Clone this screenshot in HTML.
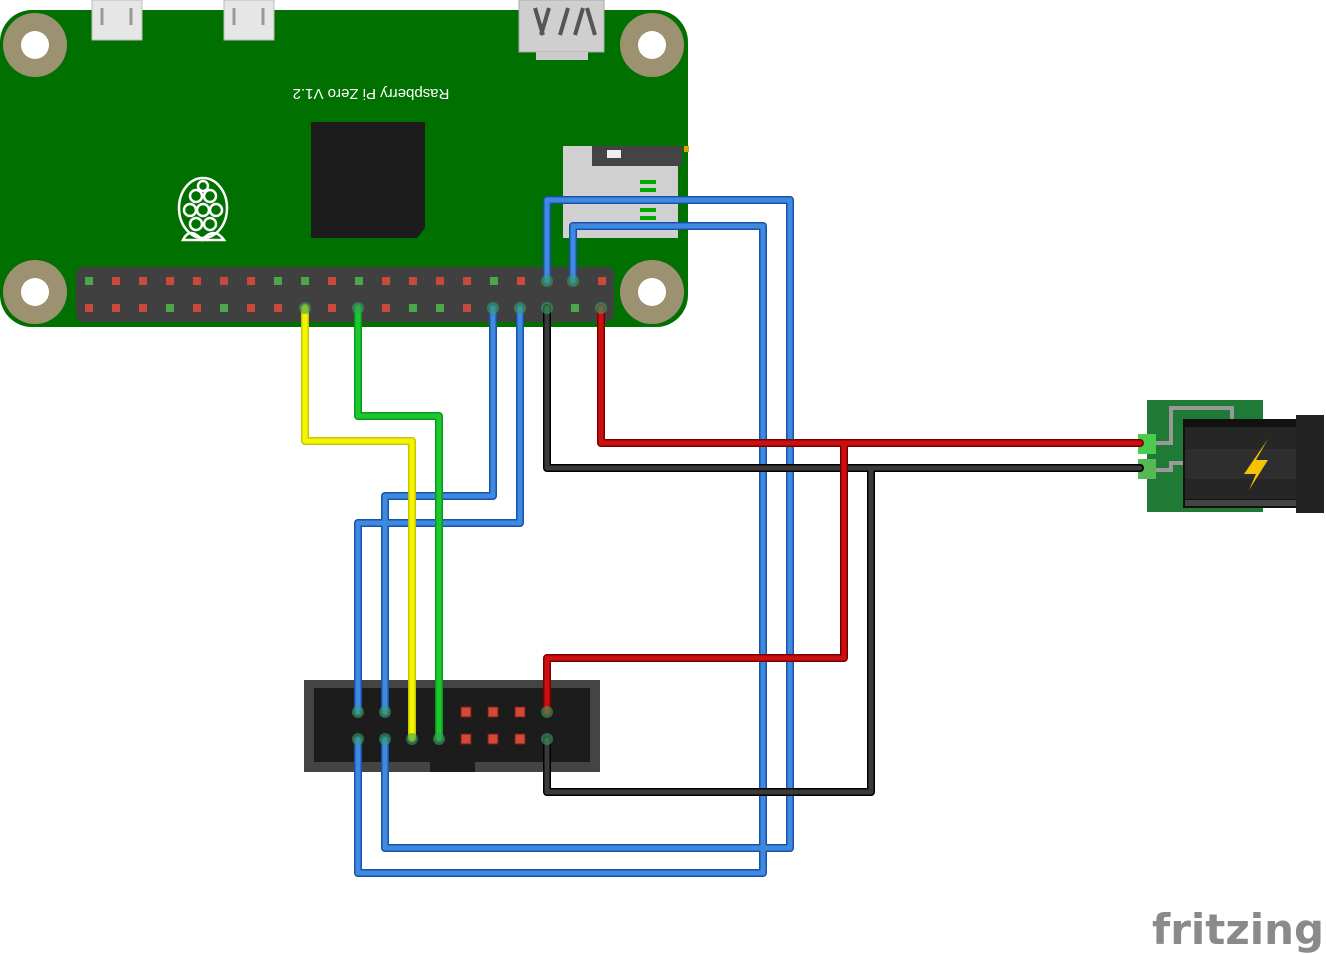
<!DOCTYPE html>
<html><head><meta charset="utf-8"><style>
html,body{margin:0;padding:0;background:#fff;width:1326px;height:954px;overflow:hidden}
</style></head><body>
<svg width="1326" height="954" viewBox="0 0 1326 954" xmlns="http://www.w3.org/2000/svg">
<rect x="0" y="10" width="688" height="317" rx="32" fill="#007000"/>
<rect x="92" y="0" width="50" height="40" fill="#e6e6e6" stroke="#bbb"/>
<path d="M102 8 V25 M131 8 V25" stroke="#999" stroke-width="3"/>
<rect x="224" y="0" width="50" height="40" fill="#e6e6e6" stroke="#bbb"/>
<path d="M234 8 V25 M263 8 V25" stroke="#999" stroke-width="3"/>
<rect x="519" y="0" width="85" height="52" fill="#cfcfcf" stroke="#aaa"/>
<path d="M535 8 L543 35 M549 8 L541 35 M560 35 L568 8 M575 35 L583 8 M587 8 L595 35" stroke="#555" stroke-width="4" fill="none"/>
<rect x="536" y="52" width="52" height="8" fill="#ccc"/>
<circle cx="35" cy="45" r="32" fill="#9c9170"/><circle cx="35" cy="45" r="14" fill="#fff"/>
<circle cx="652" cy="45" r="32" fill="#9c9170"/><circle cx="652" cy="45" r="14" fill="#fff"/>
<circle cx="35" cy="292" r="32" fill="#9c9170"/><circle cx="35" cy="292" r="14" fill="#fff"/>
<circle cx="652" cy="292" r="32" fill="#9c9170"/><circle cx="652" cy="292" r="14" fill="#fff"/>
<text x="371" y="99" font-family="Liberation Sans, sans-serif" font-size="15" fill="#fff" text-anchor="middle" transform="rotate(180 371 94)">Raspberry Pi Zero V1.2</text>
<path d="M311 122 H425 V228 L417 238 H311 Z" fill="#1c1c1c"/>
<g fill="none" stroke="#fff" stroke-width="2.5">
<ellipse cx="203" cy="208" rx="24" ry="30"/>
<circle cx="196" cy="196" r="6"/><circle cx="210" cy="196" r="6"/><circle cx="203" cy="186" r="5"/>
<circle cx="190" cy="210" r="6"/><circle cx="216" cy="210" r="6"/><circle cx="203" cy="210" r="6"/>
<circle cx="196" cy="224" r="6"/><circle cx="210" cy="224" r="6"/>
<path d="M183 240 Q190 226 202 240 Q214 226 224 240 Z"/>
</g>
<rect x="563" y="146" width="115" height="92" fill="#d0d0d0"/>
<rect x="592" y="146" width="90" height="20" fill="#444"/>
<rect x="607" y="150" width="14" height="8" fill="#eee"/>
<rect x="684" y="146" width="5" height="6" fill="#e0a000"/>
<rect x="640" y="180" width="16" height="4" fill="#0a0"/><rect x="640" y="188" width="16" height="4" fill="#0a0"/>
<rect x="640" y="208" width="16" height="4" fill="#0a0"/><rect x="640" y="216" width="16" height="4" fill="#0a0"/>
<rect x="76" y="267" width="538" height="55" rx="8" fill="#404040"/>
<g id="pins"></g>
<rect x="1147" y="400" width="116" height="112" fill="#1f7a35"/>
<path d="M1155 443 H1171 V408 H1232 V424 M1155 470 H1171 V463 H1183" stroke="#999" stroke-width="4" fill="none"/>
<rect x="1138" y="434" width="18" height="20" fill="#4ccc4c"/>
<rect x="1138" y="459" width="18" height="20" fill="#55b855"/>
<rect x="1183" y="419" width="115" height="89" fill="#111"/>
<rect x="1185" y="427" width="111" height="22" fill="#262626"/>
<rect x="1185" y="449" width="111" height="30" fill="#2e2e2e"/>
<rect x="1185" y="479" width="111" height="20" fill="#262626"/>
<rect x="1185" y="500" width="111" height="6" fill="#444"/>
<rect x="1296" y="415" width="28" height="98" fill="#222"/>
<path d="M1268 439 L1244 474 L1256 474 L1249 490 L1268 460 L1256 460 Z" fill="#f5c400"/>
<rect x="304" y="680" width="296" height="92" fill="#444"/>
<rect x="314" y="688" width="276" height="74" fill="#1c1c1c"/>
<rect x="430" y="762" width="45" height="10" fill="#1c1c1c"/>
<g fill="#d04a3a" stroke="#7a1a10" stroke-width="1">
<rect x="461" y="707" width="10" height="10"/><rect x="488" y="707" width="10" height="10"/><rect x="515" y="707" width="10" height="10"/>
<rect x="461" y="734" width="10" height="10"/><rect x="488" y="734" width="10" height="10"/><rect x="515" y="734" width="10" height="10"/>
</g>
<g fill="none" stroke-linejoin="round" stroke-linecap="round">
<g stroke="#1a52a8" stroke-width="8">
<path d="M547 281 V200 H790 V848 H385 V740"/>
<path d="M573 281 V226 H763 V873 H358 V740"/>
<path d="M493 308 V496 H385 V712"/>
<path d="M520 308 V523 H358 V712"/>
</g>
<g stroke="#3f8ae0" stroke-width="5">
<path d="M547 281 V200 H790 V848 H385 V740"/>
<path d="M573 281 V226 H763 V873 H358 V740"/>
<path d="M493 308 V496 H385 V712"/>
<path d="M520 308 V523 H358 V712"/>
</g>
<path d="M305 308 V441 H412 V738" stroke="#c8c800" stroke-width="8"/>
<path d="M305 308 V441 H412 V738" stroke="#f5f500" stroke-width="5"/>
<path d="M358 308 V416 H439 V738" stroke="#0a9a1a" stroke-width="8"/>
<path d="M358 308 V416 H439 V738" stroke="#1cc830" stroke-width="5"/>
<path d="M547 308 V468 H1140 M871 468 V792 H547 V740" stroke="#000" stroke-width="8"/>
<path d="M547 308 V468 H1140 M871 468 V792 H547 V740" stroke="#3a3a3a" stroke-width="5"/>
<path d="M601 308 V443 H1140 M844 443 V658 H547 V712" stroke="#7a0000" stroke-width="8"/>
<path d="M601 308 V443 H1140 M844 443 V658 H547 V712" stroke="#cc1010" stroke-width="5"/>
</g>
<g fill="#3aa060" opacity="0.6">
<circle cx="547" cy="281" r="6"/><circle cx="573" cy="281" r="6"/>
<circle cx="305" cy="308" r="6"/><circle cx="358" cy="308" r="6"/><circle cx="493" cy="308" r="6"/><circle cx="520" cy="308" r="6"/><circle cx="547" cy="308" r="6"/><circle cx="601" cy="308" r="6"/>
<circle cx="358" cy="712" r="6"/><circle cx="385" cy="712" r="6"/><circle cx="547" cy="712" r="6"/>
<circle cx="358" cy="739" r="6"/><circle cx="385" cy="739" r="6"/><circle cx="412" cy="739" r="6"/><circle cx="439" cy="739" r="6"/><circle cx="547" cy="739" r="6"/>
</g>
<text x="1152" y="944" font-family="DejaVu Sans, Liberation Sans, sans-serif" font-size="42" font-weight="bold" fill="#8a8a8a" textLength="172" lengthAdjust="spacingAndGlyphs">fritzing</text>
</svg>
<script>
(function(){
var g=document.getElementById('pins'),tp=[0,7,8,10,15],bt=[3,5,12,13,18],NS='http://www.w3.org/2000/svg';
function r(x,y,c){var e=document.createElementNS(NS,'rect');e.setAttribute('x',x-4);e.setAttribute('y',y);e.setAttribute('width',8);e.setAttribute('height',8);e.setAttribute('fill',c);g.appendChild(e);}
for(var i=0;i<20;i++){var x=89+27*i;
if(i!=17&&i!=18)r(x,277,tp.indexOf(i)>=0?'#4aa84a':'#c84a3a');
if([8,10,15,16,17,19].indexOf(i)<0)r(x,304,bt.indexOf(i)>=0?'#4aa84a':'#c84a3a');}
})();
</script>
</body></html>
